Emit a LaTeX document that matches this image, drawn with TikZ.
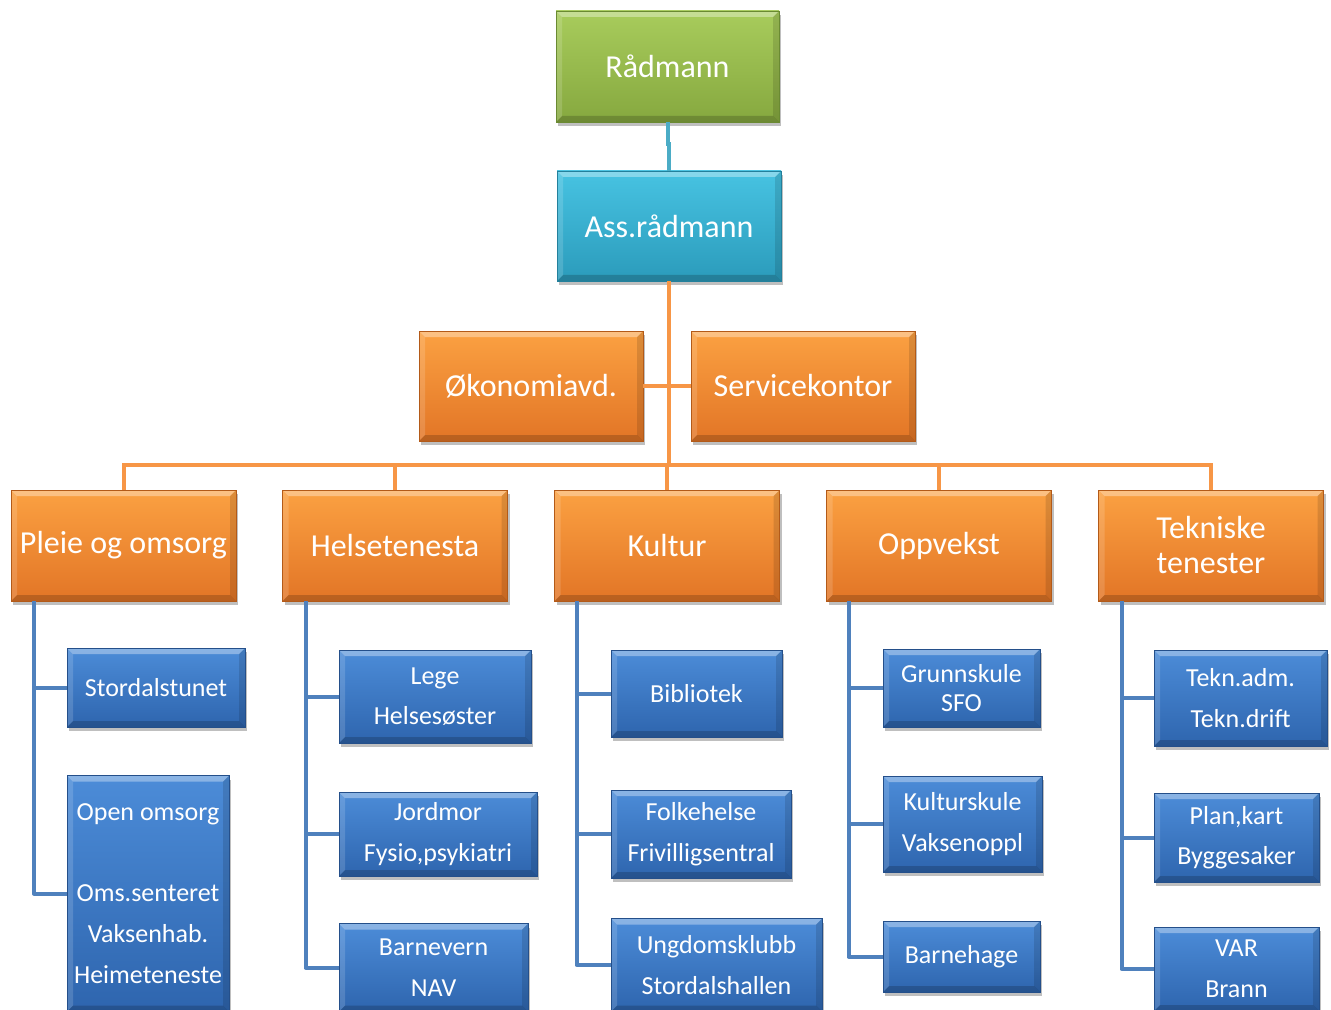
\documentclass[tikz,border=0pt]{standalone}
\usepackage{fontspec}
\setmainfont{Carlito}
\usetikzlibrary{shadows,calc}
\definecolor{grT}{HTML}{A8CC5C}
\definecolor{grB}{HTML}{86A83F}
\definecolor{grD}{HTML}{6A8A32}
\definecolor{cyT}{HTML}{47C3E2}
\definecolor{cyB}{HTML}{2B9BBB}
\definecolor{cyD}{HTML}{23809C}
\definecolor{orT}{HTML}{FBA142}
\definecolor{orB}{HTML}{E27526}
\definecolor{orD}{HTML}{B35A18}
\definecolor{blT}{HTML}{4C8CD8}
\definecolor{blB}{HTML}{2E65AE}
\definecolor{blD}{HTML}{244F8A}
\definecolor{oline}{HTML}{F79646}
\definecolor{bline}{HTML}{4F81BD}
\definecolor{cline}{HTML}{4BACC6}
\tikzset{
  bevel/.style={path picture={
    \fill[white,opacity=0.35] (path picture bounding box.north west) -- (path picture bounding box.north east) -- ([shift={(-3pt,-3pt)}]path picture bounding box.north east) -- ([shift={(3pt,-3pt)}]path picture bounding box.north west) -- cycle;
    \fill[white,opacity=0.15] (path picture bounding box.north west) -- (path picture bounding box.south west) -- ([shift={(3pt,3pt)}]path picture bounding box.south west) -- ([shift={(3pt,-3pt)}]path picture bounding box.north west) -- cycle;
    \fill[black,opacity=0.18] (path picture bounding box.south west) -- (path picture bounding box.south east) -- ([shift={(-3pt,3pt)}]path picture bounding box.south east) -- ([shift={(3pt,3pt)}]path picture bounding box.south west) -- cycle;
    \fill[black,opacity=0.12] (path picture bounding box.north east) -- (path picture bounding box.south east) -- ([shift={(-3pt,3pt)}]path picture bounding box.south east) -- ([shift={(-3pt,-3pt)}]path picture bounding box.north east) -- cycle;
  }},
  basebox/.style={rectangle, inner sep=0pt, outer sep=0pt, text=white, align=center, line width=0.4pt, bevel,
    drop shadow={shadow xshift=1pt, shadow yshift=-2pt, opacity=0.25, fill=black}},
  greenbox/.style={basebox, top color=grT, bottom color=grB, draw=grD, font=\fontsize{16}{17.5}\selectfont},
  cyanbox/.style={basebox, top color=cyT, bottom color=cyB, draw=cyD, font=\fontsize{16}{17.5}\selectfont},
  orbox/.style={basebox, top color=orT, bottom color=orB, draw=orD, font=\fontsize{16}{17.5}\selectfont},
  blbox/.style={basebox, top color=blT, bottom color=blB, draw=blD, font=\fontsize{13}{20.3}\selectfont},
  oconn/.style={draw=oline, line width=2pt},
  bconn/.style={draw=bline, line width=2pt, line join=round},
  cconn/.style={draw=cline, line width=2pt},
}
\begin{document}
\begin{tikzpicture}[x=0.5pt,y=-0.5pt]
\useasboundingbox (0,0) rectangle (1331,1010);
% top
\node[greenbox, minimum width=111.5pt, minimum height=55.5pt] (rad) at (667.5,66.5) {Rådmann};
\node[cyanbox, minimum width=112pt, minimum height=55pt] (ass) at (669,226) {Ass.rådmann};
\node[orbox, minimum width=112pt, minimum height=55pt] (oko) at (531,386) {Økonomiavd.};
\node[orbox, minimum width=112pt, minimum height=55pt] (svc) at (803,386) {Servicekontor};
% level 1
\node[orbox, minimum width=112.5pt, minimum height=55.5pt] (pleie) at (123.5,545.5) {Pleie og omsorg};
\node[orbox, minimum width=112.5pt, minimum height=55.5pt] (helse) at (395,545.5) {Helsetenesta};
\node[orbox, minimum width=112.5pt, minimum height=55.5pt] (kultur) at (667,545.5) {Kultur};
\node[orbox, minimum width=112.5pt, minimum height=55.5pt] (oppv) at (939,545.5) {Oppvekst};
\node[orbox, minimum width=112.5pt, minimum height=55.5pt] (tek) at (1211,545.5) {Tekniske\\tenester};
% level 2
\node[blbox, minimum width=89pt, minimum height=39.5pt] (stord) at (156,687.5) {Stordalstunet};
\node[blbox, minimum width=81pt, minimum height=118pt] (open) at (148,893.5) {Open omsorg\\[20.3pt]Oms.senteret\\Vaksenhab.\\Heimeteneste};
\node[blbox, minimum width=96pt, minimum height=46.5pt] (lege) at (435,696.5) {Lege\\Helsesøster};
\node[blbox, minimum width=99pt, minimum height=42pt] (jord) at (438,834) {Jordmor\\Fysio,psykiatri};
\node[blbox, minimum width=94.5pt, minimum height=44pt] (barnev) at (433.5,967.5) {Barnevern\\NAV};
\node[blbox, minimum width=85.5pt, minimum height=43.5pt] (bibl) at (696.5,693.5) {Bibliotek};
\node[blbox, minimum width=90pt, minimum height=44pt] (folk) at (701,834) {Folkehelse\\Frivilligsentral};
\node[blbox, minimum width=105.5pt, minimum height=46.5pt] (ungd) at (716.5,965) {Ungdomsklubb\\Stordalshallen};
\node[blbox, minimum width=78.5pt, minimum height=39pt, font=\fontsize{13}{14.5}\selectfont] (grunn) at (961.5,688) {Grunnskule\\SFO};
\node[blbox, minimum width=79.5pt, minimum height=48pt] (kskule) at (962.5,824) {Kulturskule\\Vaksenoppl};
\node[blbox, minimum width=78.5pt, minimum height=35.5pt] (bhage) at (961.5,956.5) {Barnehage};
\node[blbox, minimum width=86.5pt, minimum height=48pt] (tadm) at (1240.5,698) {Tekn.adm.\\Tekn.drift};
\node[blbox, minimum width=82.5pt, minimum height=44.5pt] (plan) at (1236.5,837.5) {Plan,kart\\Byggesaker};
\node[blbox, minimum width=82.5pt, minimum height=42pt] (var) at (1236.5,969) {VAR\\Brann};
% connectors
\draw[cconn] (rad.south) -- ++(0,22) -| (ass.north);
\coordinate (bus) at (669,465);
\draw[oconn] (ass.south) -- (bus);
\draw[oconn] (oko.east) -- (svc.west);
\draw[oconn] (pleie.north) |- (bus) -| (tek.north);
\draw[oconn] (helse.north) -- (helse.north |- bus);
\draw[oconn] (kultur.north) -- (kultur.north |- bus);
\draw[oconn] (oppv.north) -- (oppv.north |- bus);
\draw[bconn] ([xshift=11.5pt]pleie.south west) |- (stord.west);
\draw[bconn] ([xshift=11.5pt]pleie.south west) |- (open.west);
\draw[bconn] ([xshift=11.5pt]helse.south west) |- (lege.west);
\draw[bconn] ([xshift=11.5pt]helse.south west) |- (jord.west);
\draw[bconn] ([xshift=11.5pt]helse.south west) |- (barnev.west);
\draw[bconn] ([xshift=11pt]kultur.south west) |- (bibl.west);
\draw[bconn] ([xshift=11pt]kultur.south west) |- (folk.west);
\draw[bconn] ([xshift=11pt]kultur.south west) |- (ungd.west);
\draw[bconn] ([xshift=11pt]oppv.south west) |- (grunn.west);
\draw[bconn] ([xshift=11pt]oppv.south west) |- (kskule.west);
\draw[bconn] ([xshift=11pt]oppv.south west) |- (bhage.west);
\draw[bconn] ([xshift=11.5pt]tek.south west) |- (tadm.west);
\draw[bconn] ([xshift=11.5pt]tek.south west) |- (plan.west);
\draw[bconn] ([xshift=11.5pt]tek.south west) |- (var.west);
\end{tikzpicture}
\end{document}
